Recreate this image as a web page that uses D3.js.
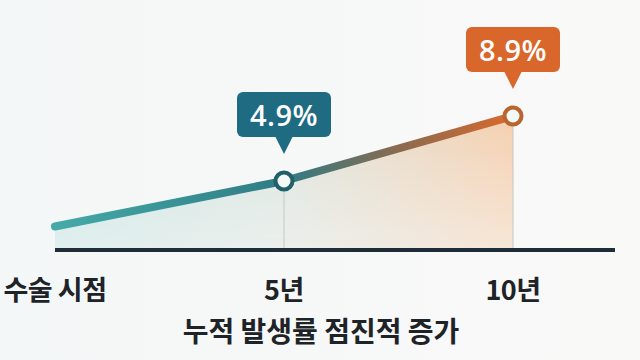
<!DOCTYPE html>
<html><head><meta charset="utf-8">
<script src="https://cdn.jsdelivr.net/npm/d3@7"></script>
<style>html,body{margin:0;padding:0;background:#f7f8f8;}svg{display:block;}</style>
</head><body>
<script>
const categories = ["수술 시점", "5년", "10년"];
const years = [0, 5, 10];
const values = [2.1, 4.9, 8.9];
const labels = ["", "4.9%", "8.9%"];
const title = "누적 발생률 점진적 증가";
const labelColors = ["#1e6b82", "#1e6b82", "#d9662a"];
const markerColors = ["#215f6b", "#215f6b", "#b8652e"];

const W = 640, H = 360;
const svg = d3.select("body").append("svg").attr("width", W).attr("height", H);
const font = "'Noto Sans CJK KR','Noto Sans',sans-serif";

const defs = svg.append("defs");
const bgGrad = defs.append("linearGradient").attr("id","bg").attr("x1","0").attr("x2","1");
bgGrad.append("stop").attr("offset","0").attr("stop-color","#f4f7f7");
bgGrad.append("stop").attr("offset","1").attr("stop-color","#f9f9f8");
svg.append("rect").attr("width",W).attr("height",H).attr("fill","url(#bg)");

const x = d3.scaleLinear().domain([0, 10]).range([55, 513]);
const y = d3.scaleLinear().domain([0, 10]).range([260.6, 98.1]);
const axisY = 250;

const lg = defs.append("linearGradient").attr("id","lineGrad").attr("gradientUnits","userSpaceOnUse")
  .attr("x1", x(0)).attr("x2", x(10)).attr("y1",0).attr("y2",0);
lg.append("stop").attr("offset","0").attr("stop-color","#45aaa8");
lg.append("stop").attr("offset","0.5").attr("stop-color","#2e7c84");
lg.append("stop").attr("offset","0.75").attr("stop-color","#8a6a50");
lg.append("stop").attr("offset","1").attr("stop-color","#da6a2c");

const ag = defs.append("linearGradient").attr("id","areaGrad").attr("gradientUnits","userSpaceOnUse")
  .attr("x1", x(0)).attr("x2", x(10)).attr("y1",0).attr("y2",0);
ag.append("stop").attr("offset","0").attr("stop-color","#c6e6e4");
ag.append("stop").attr("offset","0.5").attr("stop-color","#dde5df");
ag.append("stop").attr("offset","1").attr("stop-color","#f5cfae");

const mg = defs.append("linearGradient").attr("id","maskGrad").attr("gradientUnits","userSpaceOnUse")
  .attr("x1",0).attr("x2",0).attr("y1", y(values[2])).attr("y2", axisY);
mg.append("stop").attr("offset","0").attr("stop-color","#fff");
mg.append("stop").attr("offset","1").attr("stop-color","#fff").attr("stop-opacity",0.45);
defs.append("mask").attr("id","areaMask").attr("maskUnits","userSpaceOnUse")
  .attr("x",0).attr("y",0).attr("width",W).attr("height",H)
  .append("rect").attr("width",W).attr("height",H).attr("fill","url(#maskGrad)");

const data = years.map((yr,i)=>({yr, v: values[i], i}));

svg.append("path").datum(data)
  .attr("d", d3.area().x(d=>x(d.yr)).y0(axisY).y1(d=>y(d.v)))
  .attr("fill","url(#areaGrad)").attr("mask","url(#areaMask)");

// drop lines
svg.selectAll(".drop").data(data.slice(1)).enter().append("line")
  .attr("x1", d=>x(d.yr)).attr("x2", d=>x(d.yr))
  .attr("y1", d=>y(d.v)).attr("y2", axisY)
  .attr("stroke","#c4c8c8").attr("stroke-width",1);

// axis
svg.append("line").attr("x1", 55).attr("x2", 615).attr("y1", axisY).attr("y2", axisY)
  .attr("stroke","#1f2d38").attr("stroke-width",4);

// line
svg.append("path").datum(data)
  .attr("d", d3.line().x(d=>x(d.yr)).y(d=>y(d.v)))
  .attr("fill","none").attr("stroke","url(#lineGrad)").attr("stroke-width",8)
  .attr("stroke-linecap","round").attr("stroke-linejoin","round");

// markers
svg.selectAll(".mk").data(data.slice(1)).enter().append("circle")
  .attr("cx", d=>x(d.yr)).attr("cy", d=>y(d.v)).attr("r", 8.5)
  .attr("fill","#f4f8f6").attr("stroke", d=>markerColors[d.i]).attr("stroke-width",4);

// labels
const lab = svg.selectAll(".lab").data(data.slice(1)).enter().append("g")
  .attr("transform", d=>`translate(${x(d.yr)},${y(d.v)})`);
lab.append("rect").attr("x",-47).attr("y",-89).attr("width",94).attr("height",45).attr("rx",6)
  .attr("fill", d=>labelColors[d.i]);
lab.append("path").attr("d","M-9,-45 L9,-45 L0,-27 Z").attr("fill", d=>labelColors[d.i]);
lab.append("text").attr("x",0).attr("y",-55).attr("text-anchor","middle")
  .attr("font-family","'Open Sans','DejaVu Sans',sans-serif").attr("font-weight",600).attr("font-size",29)
  .attr("letter-spacing",0.5)
  .attr("fill","#ffffff").text(d=>labels[d.i]);

// tick labels
svg.selectAll(".tick").data(data).enter().append("text")
  .attr("x", d=>x(d.yr)).attr("y", 300).attr("text-anchor","middle")
  .attr("font-family", font).attr("font-weight",700).attr("font-size",27)
  .attr("letter-spacing",-0.5)
  .attr("fill","#1e2328").text(d=>categories[d.i]);

svg.append("text").attr("x", 321).attr("y", 342).attr("text-anchor","middle")
  .attr("font-family", font).attr("font-weight",600).attr("font-size",28)
  .attr("letter-spacing",0)
  .attr("fill","#1e2328").text(title);
</script>
</body></html>
